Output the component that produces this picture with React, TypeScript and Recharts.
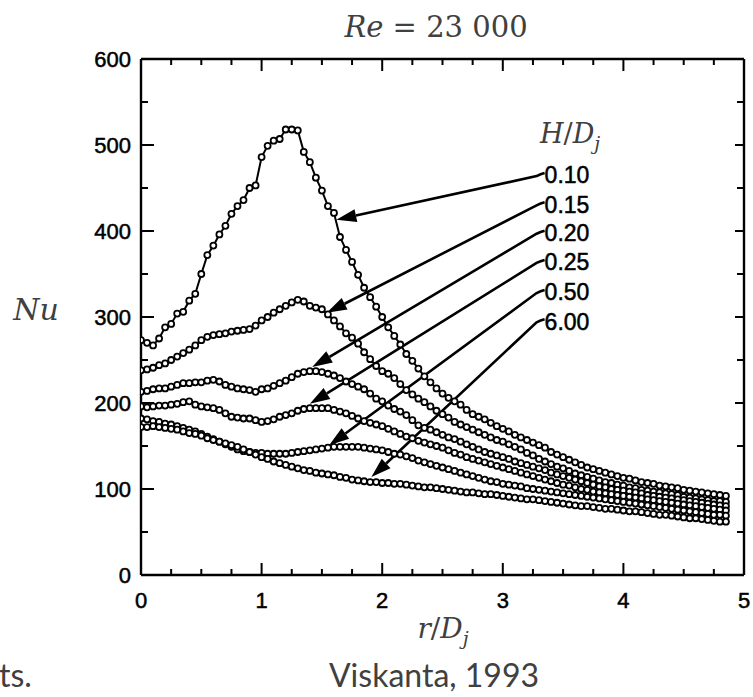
import React from 'react';
import { LineChart, Line, XAxis, YAxis, ReferenceLine } from 'recharts';

const rValues = [
  0, 0.05, 0.1, 0.15, 0.2, 0.25, 0.3, 0.35, 0.4, 0.45,
  0.5, 0.55, 0.6, 0.65, 0.7, 0.75, 0.8, 0.85, 0.9, 0.95,
  1.0, 1.05, 1.1, 1.15, 1.2, 1.25, 1.3, 1.35, 1.4, 1.45,
  1.5, 1.55, 1.6, 1.65, 1.7, 1.75, 1.8, 1.85, 1.9, 1.95,
  2.0, 2.05, 2.1, 2.15, 2.2, 2.25, 2.3, 2.35, 2.4, 2.45,
  2.5, 2.55, 2.6, 2.65, 2.7, 2.75, 2.8, 2.85, 2.9, 2.95,
  3.0, 3.05, 3.1, 3.15, 3.2, 3.25, 3.3, 3.35, 3.4, 3.45,
  3.5, 3.55, 3.6, 3.65, 3.7, 3.75, 3.8, 3.85, 3.9, 3.95,
  4.0, 4.05, 4.1, 4.15, 4.2, 4.25, 4.3, 4.35, 4.4, 4.45,
  4.5, 4.55, 4.6, 4.65, 4.7, 4.75, 4.8, 4.85,
];

const nu010 = [
  273, 270, 267, 275, 288, 292, 304, 306, 319, 327,
  350, 372, 383, 396, 406, 420, 429, 436, 450, 453,
  486, 499, 505, 507, 518, 518, 517, 492, 480, 462,
  447, 429, 421, 393, 378, 364, 349, 334, 323, 312,
  300, 288, 278, 268, 257, 249, 240, 231, 224, 217,
  211, 206, 202, 198, 192, 187, 184, 181, 177, 173,
  170, 167, 163, 160, 157, 154, 151, 148, 143, 140,
  137, 134, 131, 128, 125, 123, 121, 119, 117, 115,
  113, 112, 110, 108, 107, 106, 104, 103, 102, 101,
  99, 98, 97, 96, 95, 94, 93, 92,
];

const nu015 = [
  238, 239, 241, 244, 246, 250, 254, 258, 262, 267,
  273, 277, 279, 280, 281, 283, 284, 285, 286, 290,
  296, 300, 305, 309, 313, 317, 320, 318, 313, 311,
  309, 303, 296, 289, 281, 276, 269, 259, 251, 243,
  237, 234, 229, 222, 215, 210, 205, 201, 196, 191,
  187, 183, 178, 175, 172, 169, 166, 163, 160, 157,
  155, 152, 149, 146, 142, 139, 135, 132, 129, 126,
  124, 121, 118, 116, 114, 112, 110, 108, 107, 105,
  104, 102, 101, 99, 98, 97, 96, 95, 94, 93,
  91, 90, 89, 88, 87, 86, 86, 85,
];

const nu020 = [
  213, 214, 216, 217, 217, 219, 221, 223, 223, 224,
  224, 226, 227, 225, 221, 219, 217, 216, 215, 213,
  216, 217, 220, 223, 226, 230, 234, 236, 237, 237,
  236, 234, 232, 229, 225, 222, 219, 216, 211, 205,
  202, 197, 193, 190, 186, 180, 174, 171, 169, 166,
  163, 160, 158, 155, 152, 149, 146, 143, 141, 139,
  137, 135, 132, 130, 128, 126, 124, 122, 119, 117,
  115, 113, 111, 109, 107, 105, 103, 102, 100, 99,
  98, 97, 96, 95, 93, 92, 91, 90, 89, 88,
  87, 86, 85, 84, 83, 82, 81, 80,
];

const nu025 = [
  196, 195, 196, 197, 197, 198, 199, 201, 202, 198,
  196, 195, 194, 192, 188, 184, 183, 182, 182, 180,
  178, 179, 181, 184, 186, 188, 191, 193, 194, 194,
  194, 194, 192, 190, 188, 185, 182, 179, 177, 175,
  173, 170, 167, 164, 161, 159, 156, 154, 152, 150,
  148, 145, 142, 140, 137, 135, 133, 131, 129, 127,
  125, 123, 121, 119, 117, 115, 113, 111, 109, 107,
  105, 104, 102, 100, 99, 97, 96, 95, 94, 93,
  92, 91, 90, 89, 88, 87, 86, 85, 84, 83,
  82, 81, 80, 79, 78, 77, 76, 75,
];

const nu050 = [
  182, 181, 179, 178, 176, 175, 173, 171, 169, 167,
  164, 161, 158, 155, 152, 149, 146, 144, 143, 142,
  142, 141, 141, 141, 141, 142, 143, 144, 145, 146,
  147, 148, 149, 149, 149, 149, 149, 148, 147, 146,
  145, 143, 141, 140, 138, 136, 133, 131, 129, 127,
  125, 123, 121, 119, 117, 115, 113, 111, 109, 108,
  106, 105, 104, 103, 101, 100, 99, 98, 97, 96,
  95, 94, 93, 92, 91, 90, 89, 88, 87, 86,
  85, 84, 83, 82, 81, 80, 79, 78, 77, 76,
  75, 74, 73, 72, 71, 70, 70, 69,
];

const nu600 = [
  172, 172, 173, 172, 171, 170, 169, 167, 165, 164,
  162, 159, 157, 155, 153, 151, 149, 146, 143, 140,
  137, 135, 132, 130, 128, 126, 124, 122, 121, 119,
  118, 117, 116, 114, 113, 111, 110, 109, 108, 108,
  107, 107, 106, 106, 105, 104, 103, 102, 102, 101,
  100, 99, 98, 97, 96, 96, 95, 94, 94, 93,
  92, 91, 90, 89, 88, 88, 87, 86, 85, 84,
  83, 82, 81, 80, 80, 79, 78, 77, 77, 76,
  75, 74, 74, 73, 72, 71, 70, 70, 69, 68,
  67, 66, 66, 65, 64, 63, 62, 62,
];

const seriesKeys = ['h010', 'h015', 'h020', 'h025', 'h050', 'h600'];
const seriesValues = [nu010, nu015, nu020, nu025, nu050, nu600];

// annotation labels and arrows (data coordinates)
const labelNames = ['0.10', '0.15', '0.20', '0.25', '0.50', '6.00'];
const arrowStartR = [3.33, 3.33, 3.33, 3.33, 3.33, 3.33];
const arrowStartNu = [465, 431, 398, 364, 329, 295];
const arrowTipR = [1.62, 1.54, 1.42, 1.4, 1.56, 1.91];
const arrowTipNu = [413, 305, 242, 199, 151, 114];

const xTicks = [0, 0.25, 0.5, 0.75, 1, 1.25, 1.5, 1.75, 2, 2.25, 2.5, 2.75, 3, 3.25, 3.5, 3.75, 4, 4.25, 4.5, 4.75, 5];
const yTicks = [0, 50, 100, 150, 200, 250, 300, 350, 400, 450, 500, 550, 600];

const data = rValues.map((r, i) => {
  const row: any = { r };
  seriesKeys.forEach((k, j) => {
    row[k] = seriesValues[j][i];
  });
  return row;
});

const tickFont = "'Liberation Sans', Arial, Helvetica, sans-serif";
const mathFont = "'DejaVu Serif', serif";

const isMajorX = (v: number) => Math.abs(v - Math.round(v)) < 1e-6;
const isMajorY = (v: number) => Math.abs(v / 100 - Math.round(v / 100)) < 1e-6;

const BottomTick = (props: any) => {
  const { x, y, payload } = props;
  const v = payload.value;
  const major = isMajorX(v);
  return (
    <g>
      <line x1={x} x2={x} y1={y} y2={y - (major ? 12 : 6)} stroke="#000" strokeWidth={2} />
      {major && (
        <text x={x} y={y + 25} textAnchor="middle" dy="0.35em" fontFamily={tickFont} fontSize={22} fill="#000" stroke="#000" strokeWidth={0.5}>
          {v}
        </text>
      )}
    </g>
  );
};

const LeftTick = (props: any) => {
  const { x, y, payload } = props;
  const v = payload.value;
  const major = isMajorY(v);
  return (
    <g>
      <line x1={x} x2={x + (major ? 13 : 7)} y1={y} y2={y} stroke="#000" strokeWidth={2} />
      {major && (
        <text x={x - 10} y={y} textAnchor="end" dy="0.35em" fontFamily={tickFont} fontSize={22} fill="#000" stroke="#000" strokeWidth={0.5}>
          {v}
        </text>
      )}
    </g>
  );
};

const TopTick = (props: any) => {
  const { x, y, payload } = props;
  const major = isMajorX(payload.value);
  return <line x1={x} x2={x} y1={y} y2={y + (major ? 12 : 6)} stroke="#000" strokeWidth={2} />;
};

const RightTick = (props: any) => {
  const { x, y, payload } = props;
  const major = isMajorY(payload.value);
  return <line x1={x} x2={x - (major ? 9 : 7)} y1={y} y2={y} stroke="#000" strokeWidth={2} />;
};

const makeArrow = (label: string) => (props: any) => {
  const { x1, y1, x2, y2 } = props;
  const dx = x2 - x1;
  const dy = y2 - y1;
  const len = Math.sqrt(dx * dx + dy * dy) || 1;
  const ux = dx / len;
  const uy = dy / len;
  const headLen = 20;
  const headHalf = 6.5;
  const bx = x2 - ux * headLen;
  const by = y2 - uy * headLen;
  const px = -uy;
  const py = ux;
  return (
    <g>
      <path
        d={`M${x1 + 2},${y1 - 2} Q${x1 - 2},${y1 - 1} ${x1 - 6},${y1 + 1} L${bx},${by}`}
        fill="none"
        stroke="#000"
        strokeWidth={2.6}
      />
      <polygon
        points={`${x2},${y2} ${bx + px * headHalf},${by + py * headHalf} ${bx - px * headHalf},${by - py * headHalf}`}
        fill="#000"
      />
      <text x={x1 + 2} y={y1} dy="0.36em" fontFamily={tickFont} fontSize={23} fill="#000" stroke="#000" strokeWidth={0.5}>
        {label}
      </text>
    </g>
  );
};

export default function App() {
  return (
    <div style={{ position: 'absolute', left: 0, top: 0, width: 753, height: 697, background: '#fff' }}>
      <LineChart
        width={753}
        height={697}
        data={data}
        margin={{ top: 58, right: 8, bottom: 92, left: 0 }}
      >
        <XAxis
          dataKey="r"
          type="number"
          domain={[0, 5]}
          allowDataOverflow
          ticks={xTicks}
          interval={0}
          height={30}
          tickSize={0}
          tickMargin={0}
          tickLine={false}
          axisLine={{ stroke: '#000', strokeWidth: 2.4 }}
          tick={<BottomTick />}
        />
        <XAxis
          xAxisId="top"
          dataKey="r"
          orientation="top"
          type="number"
          domain={[0, 5]}
          allowDataOverflow
          ticks={xTicks}
          interval={0}
          height={1}
          tickSize={0}
          tickMargin={0}
          tickLine={false}
          axisLine={{ stroke: '#000', strokeWidth: 2.4 }}
          tick={<TopTick />}
        />
        <YAxis
          type="number"
          domain={[0, 600]}
          allowDataOverflow
          ticks={yTicks}
          interval={0}
          width={141}
          tickSize={0}
          tickMargin={0}
          tickLine={false}
          axisLine={{ stroke: '#000', strokeWidth: 2.4 }}
          tick={<LeftTick />}
        />
        <YAxis
          yAxisId="right"
          dataKey="h010"
          orientation="right"
          type="number"
          domain={[0, 600]}
          allowDataOverflow
          ticks={yTicks}
          interval={0}
          width={1}
          tickSize={0}
          tickMargin={0}
          tickLine={false}
          axisLine={{ stroke: '#000', strokeWidth: 2.4 }}
          tick={<RightTick />}
        />
        {seriesKeys.map((k) => (
          <Line
            key={k}
            type="linear"
            dataKey={k}
            stroke="#000"
            strokeWidth={2}
            dot={{ r: 3, fill: '#fff', stroke: '#000', strokeWidth: 1.8 }}
            activeDot={false}
            isAnimationActive={false}
          />
        ))}
        {labelNames.map((name, i) => (
          <ReferenceLine
            key={name}
            segment={[
              { x: arrowStartR[i], y: arrowStartNu[i] },
              { x: arrowTipR[i], y: arrowTipNu[i] },
            ]}
            stroke="#000"
            ifOverflow="visible"
            shape={makeArrow(name)}
          />
        ))}
      </LineChart>
      <svg
        width={753}
        height={697}
        style={{ position: 'absolute', left: 0, top: 0, pointerEvents: 'none' }}
      >
        <text x={436} y={37} textAnchor="middle" fontFamily={mathFont} fontSize={29} fill="#404040">
          <tspan fontStyle="italic">Re</tspan>
          <tspan> = 23 000</tspan>
        </text>
        <text x={36} y={320} textAnchor="middle" fontFamily={mathFont} fontSize={30} fontStyle="italic" fill="#404040">
          Nu
        </text>
        <text x={540} y={143} fontFamily={mathFont} fontSize={27} fill="#404040">
          <tspan fontStyle="italic">H</tspan>
          <tspan>/</tspan>
          <tspan fontStyle="italic">D</tspan>
          <tspan fontStyle="italic" fontSize={19} dy={7}>j</tspan>
        </text>
        <text x={443} y={638} textAnchor="middle" fontFamily={mathFont} fontSize={28} fill="#404040">
          <tspan fontStyle="italic">r</tspan>
          <tspan>/</tspan>
          <tspan fontStyle="italic">D</tspan>
          <tspan fontStyle="italic" fontSize={19} dy={7}>j</tspan>
        </text>
        <text x={434} y={687} textAnchor="middle" fontFamily="Lato, 'Open Sans', sans-serif" fontSize={32} fill="#404040">
          Viskanta, 1993
        </text>
        <text x={-1} y={687} fontFamily="Lato, 'Open Sans', sans-serif" fontSize={32} fill="#404040">
          ts.
        </text>
      </svg>
    </div>
  );
}
